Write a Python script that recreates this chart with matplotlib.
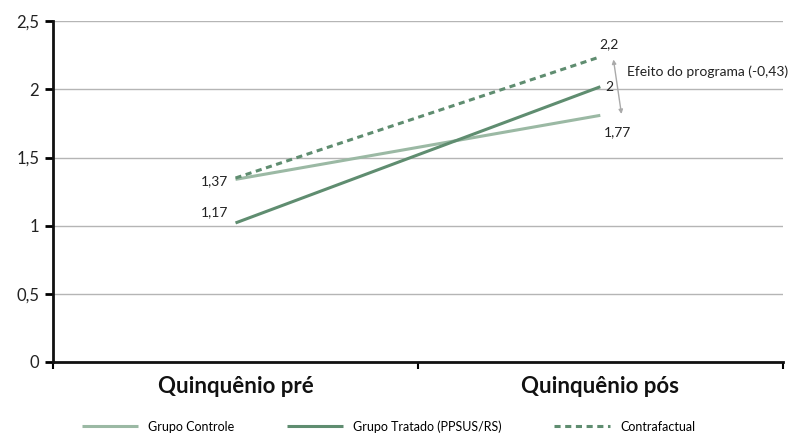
import numpy as np
import matplotlib
matplotlib.use("Agg")
import matplotlib.pyplot as plt

plt.rcParams['font.family'] = ['Lato', 'DejaVu Sans']

periods = ["Quinquênio pré", "Quinquênio pós"]
controle = [1.34, 1.81]
tratado = [1.02, 2.02]
contrafactual = [1.35, 2.24]
# value labels as printed on the original chart
lbl_pre = ["1,37", "1,17"]
lbl_pos = ["2,2", "2", "1,77"]
efeito = "Efeito do programa (-0,43)"

c_light = "#9bb9a4"
c_dark = "#5f8d70"
txt = "#222222"

fig = plt.figure(figsize=(7.93, 4.36), dpi=100)
ax = fig.add_axes([0.067, 0.17, 0.92, 0.781])

x = np.arange(len(periods))
ax.plot(x, controle, color=c_light, lw=2.2, label="Grupo Controle", solid_capstyle="butt")
ax.plot(x, tratado, color=c_dark, lw=2.2, label="Grupo Tratado (PPSUS/RS)", solid_capstyle="butt")
ax.plot(x, contrafactual, color=c_dark, lw=2.2, ls=(0, (2, 1.5)), label="Contrafactual")

# labels
ax.text(x[0] - 0.02, contrafactual[0] - 0.02, lbl_pre[0], ha="right", va="center", fontsize=10, color=txt)
ax.text(x[0] - 0.02, tratado[0] + 0.08, lbl_pre[1], ha="right", va="center", fontsize=10, color=txt)
ax.text(x[1] + 0.025, contrafactual[1] + 0.09, lbl_pos[0], ha="center", va="center", fontsize=10, color=txt)
ax.text(x[1] + 0.015, tratado[1], lbl_pos[1], ha="left", va="center", fontsize=10, color=txt)
ax.text(x[1] + 0.01, controle[1] - 0.12, lbl_pos[2], ha="left", va="center", fontsize=10, color=txt)
ax.text(x[1] + 0.074, 2.13, efeito, ha="left", va="center", fontsize=10, color=txt)

ax.annotate("", xy=(x[1] + 0.036, contrafactual[1] - 0.02), xytext=(x[1] + 0.058, controle[1] + 0.01),
            arrowprops=dict(arrowstyle="<|-|>", color="#aaaaaa", lw=1, mutation_scale=6,
                            shrinkA=0, shrinkB=0))

ax.set_xlim(-0.5, 1.5)
ax.set_ylim(0, 2.5)
ax.set_yticks([0, 0.5, 1, 1.5, 2, 2.5])
ax.set_yticklabels(["0", "0,5", "1", "1,5", "2", "2,5"], fontsize=12, color=txt)
ax.set_xticks(x)
ax.set_xticklabels(periods, fontsize=16, fontweight="bold", color="#111111")
ax.set_xticks([-0.5, 0.5, 1.5], minor=True)
ax.tick_params(axis="x", which="major", length=0, pad=10)
ax.tick_params(axis="x", which="minor", length=5, width=1.5, direction="out")
ax.tick_params(axis="y", length=6, width=2, direction="out", pad=4)

ax.yaxis.grid(True, color="#b5b5b5", lw=1)
ax.set_axisbelow(True)
for s in ["top", "right"]:
    ax.spines[s].set_visible(False)
for s in ["left", "bottom"]:
    ax.spines[s].set_linewidth(2)
    ax.spines[s].set_color("#111111")

fig.legend(loc="lower center", bbox_to_anchor=(0.49, -0.018), ncol=3, frameon=False,
           fontsize=9, handlelength=4.5, columnspacing=4.2)

fig.savefig("out.png", dpi=100)
